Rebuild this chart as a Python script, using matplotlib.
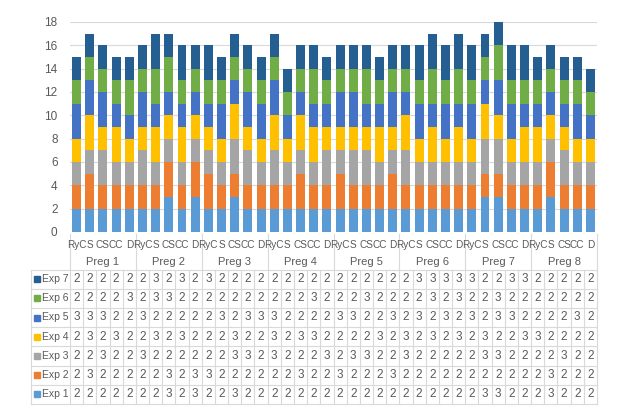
import matplotlib.pyplot as plt
from matplotlib.patches import Rectangle

plt.rcParams['font.family'] = ['Liberation Sans', 'DejaVu Sans']

groups = ['Preg 1', 'Preg 2', 'Preg 3', 'Preg 4', 'Preg 5', 'Preg 6', 'Preg 7', 'Preg 8']
cats = ['RyC', 'S', 'CS', 'CC', 'D']
series = ['Exp 1', 'Exp 2', 'Exp 3', 'Exp 4', 'Exp 5', 'Exp 6', 'Exp 7']
colors = ['#5B9BD5', '#ED7D31', '#A5A5A5', '#FFC000', '#4472C4', '#70AD47', '#255E91']

exp1 = [2,2,2,2,2, 2,2,3,2,3, 2,2,3,2,2, 2,2,2,2,2, 2,2,2,2,2, 2,2,2,2,2, 2,3,3,2,2, 2,3,2,2,2]
exp2 = [2,3,2,2,2, 2,2,3,2,3, 3,2,2,2,2, 2,2,3,2,2, 3,2,2,2,3, 2,2,2,2,2, 2,2,2,2,2, 2,3,2,2,2]
exp3 = [2,2,3,2,2, 3,2,2,2,2, 2,2,3,3,2, 3,2,2,2,3, 2,3,3,2,2, 3,2,2,2,2, 2,3,3,2,2, 2,2,3,2,2]
exp4 = [2,3,2,3,2, 2,3,2,3,2, 2,2,3,2,2, 3,2,3,3,2, 2,2,2,3,2, 3,2,3,2,3, 2,3,2,2,3, 3,2,2,2,2]
exp5 = [3,3,3,2,2, 3,2,2,2,2, 2,3,2,3,3, 3,2,2,2,2, 3,3,2,2,3, 2,3,2,3,2, 3,2,3,3,2, 2,2,2,3,2]
exp6 = [2,2,2,2,3, 2,3,3,2,2, 2,2,2,2,2, 2,2,2,3,2, 2,2,3,2,2, 2,2,3,2,3, 2,2,3,2,2, 2,2,2,2,2]
exp7 = [2,2,2,2,2, 2,3,2,3,2, 3,2,2,2,2, 2,2,2,2,2, 2,2,2,2,2, 2,3,3,3,3, 3,2,2,3,3, 2,2,2,2,2]
values = [exp1, exp2, exp3, exp4, exp5, exp6, exp7]

n = len(exp1)
xs = list(range(n))
W, H = 627, 413
txt_c = '#595959'

fig = plt.figure(figsize=(W / 100, H / 100), dpi=100)

# main bar area (pixel coords converted to figure fraction)
x0, x1 = 70, 597
ax = fig.add_axes([x0 / W, 1 - 232 / H, (x1 - x0) / W, (232 - 22) / H])
bottom = [0] * n
for vals, col in zip(values, colors):
    ax.bar(xs, vals, bottom=bottom, width=0.68, color=col, zorder=3)
    bottom = [b + v for b, v in zip(bottom, vals)]
ax.set_xlim(-0.5, n - 0.5)
ax.set_ylim(0, 18)
ax.set_yticks(range(0, 19, 2))
ax.yaxis.grid(True, color='#D9D9D9', linewidth=0.8, zorder=0)
ax.set_xticks([])
for s in ax.spines.values():
    s.set_visible(False)
ax.tick_params(axis='y', length=0, labelsize=8.5, labelcolor=txt_c, pad=9)

# lower area: category labels, group labels, data table
axt = fig.add_axes([0, 0, 1, 1])
axt.set_xlim(0, W)
axt.set_ylim(H, 0)
axt.axis('off')
cw = (x1 - x0) / n
line_c = '#D9D9D9'

for i in xs:
    axt.text(x0 + cw * (i + 0.5), 245, cats[i % len(cats)], ha='center', va='center',
             fontsize=7.2, color=txt_c)
for g, name in enumerate(groups):
    gx = x0 + cw * len(cats) * g
    axt.plot([gx, gx], [234, 270], color=line_c, lw=0.8)
    axt.text(gx + cw * len(cats) / 2, 262, name, ha='center', va='center',
             fontsize=8, color=txt_c)
axt.plot([x1, x1], [234, 270], color=line_c, lw=0.8)

row_top = 269.5
rh = 19.2
tl = 30.5
for r in range(len(series) + 1):
    y = row_top + rh * r
    axt.plot([tl, x1], [y, y], color=line_c, lw=0.8)
axt.plot([tl, tl], [row_top, row_top + rh * 7], color=line_c, lw=0.8)
for i in range(n + 1):
    xx = x0 + cw * i
    axt.plot([xx, xx], [row_top, row_top + rh * 7], color=line_c, lw=0.8)

for r in range(len(series)):
    k = len(series) - 1 - r
    yc = row_top + rh * (r + 0.5)
    axt.add_patch(Rectangle((34, yc - 3), 6, 6, color=colors[k]))
    axt.text(42.5, yc, series[k], ha='left', va='center', fontsize=7.5, color=txt_c)
    for i in xs:
        axt.text(x0 + cw * (i + 0.5), yc, str(values[k][i]), ha='center', va='center',
                 fontsize=8.5, color=txt_c)

fig.savefig('out.png', dpi=100)
